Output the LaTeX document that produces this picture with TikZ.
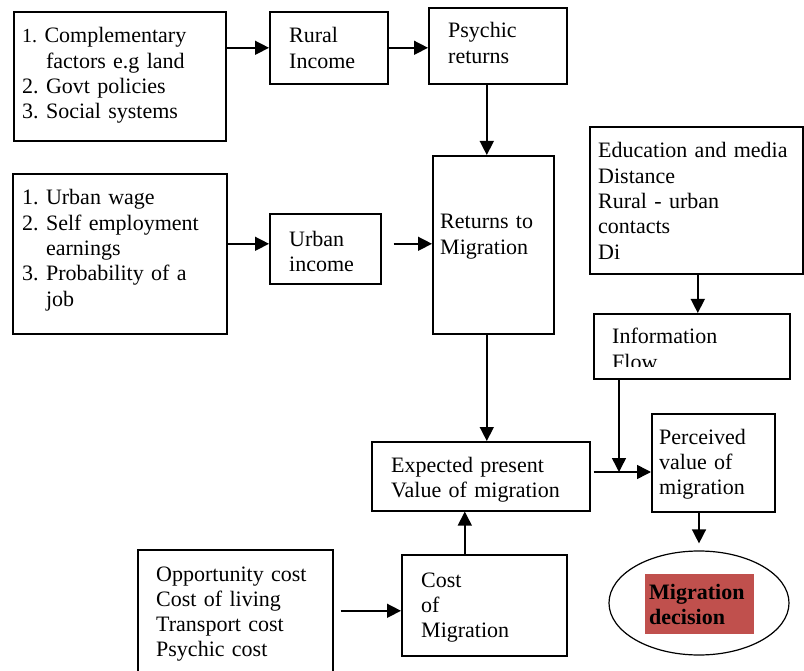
\documentclass[tikz,border=0pt]{standalone}
\usepackage{fontspec}
\setmainfont{Liberation Serif}
\usetikzlibrary{arrows.meta, positioning, shapes.geometric}
\definecolor{hlred}{HTML}{C0504D}
\frenchspacing

\begin{document}
\begin{tikzpicture}[x=1pt, y=-1pt,
        font=\fontsize{22}{25.3}\selectfont,
        box/.style={draw, line width=1.6pt, anchor=north west, inner sep=0pt},
        txt/.style={anchor=base west, align=left, inner sep=0pt, text width=200pt},
        arrow/.style={-{Triangle[length=14pt, width=14pt]}, line width=1.5pt}
    ]
    \useasboundingbox (0,0) rectangle (804,671);

        % Boxes
        \node[box, minimum width=212pt, minimum height=129pt] (factors) at (13,11) {};
        \node[box, minimum width=118pt, minimum height=72pt] (rural) at (269,11) {};
        \node[box, minimum width=138pt, minimum height=76pt] (psychic) at (428,7) {};
        \node[box, minimum width=214pt, minimum height=160pt] (urbanf) at (12,173) {};
        \node[box, minimum width=111pt, minimum height=70pt] (urban) at (269,213) {};
        \node[box, minimum width=121pt, minimum height=178pt] (returns) at (432,155) {};
        \node[box, minimum width=213pt, minimum height=147pt] (media) at (589,126) {};
        \node[box, minimum width=196pt, minimum height=65pt] (infoflow) at (593,313) {};
        \node[box, minimum width=218pt, minimum height=69pt] (expected) at (371,441) {};
        \node[box, minimum width=123pt, minimum height=98pt] (perceived) at (651,413) {};
        \node[box, minimum width=195pt, minimum height=132pt] (costs) at (137,549) {};
        \node[box, minimum width=165pt, minimum height=101pt] (cost) at (401,554) {};
        \node[draw, ellipse, line width=1.2pt, minimum width=180pt, minimum height=104pt, inner sep=0pt] (decision) at (699,603) {};

        % Texts
        \node[txt] (factorstxt) at ([shift={(9,32)}]factors.north west)
            {{\fontsize{20}{25.3}\selectfont 1.} Complementary\\\hphantom{1. }factors e.g land\\2. Govt policies\\3. Social systems};
        \node[txt] (ruraltxt) at ([shift={(20,32)}]rural.north west) {Rural\\Income};
        \node[txt] (psychictxt) at ([shift={(20,31)}]psychic.north west) {Psychic\\returns};
        \node[txt] (urbanftxt) at ([shift={(10,32)}]urbanf.north west)
            {1. Urban wage\\2. Self employment\\\hphantom{2. }earnings\\3. Probability of a\\\hphantom{3. }job};
        \node[txt] (urbantxt) at ([shift={(20,33.5)}]urban.north west) {Urban\\income};
        \node[txt] (returnstxt) at ([shift={(8,74)}]returns.north west) {Returns to\\Migration};
        \node[txt] (mediatxt) at ([shift={(9,32)}]media.north west)
            {Education and media\\Distance\\Rural - urban\\contacts\\Di};
        \begin{scope}
            \clip (infoflow.north west) rectangle ([yshift=13pt]infoflow.south east);
            \node[txt] (infoflowtxt) at ([shift={(19,31)}]infoflow.north west) {Information\\Flow};
        \end{scope}
        \node[txt] (expectedtxt) at ([shift={(20,31)}]expected.north west) {Expected present\\Value of migration};
        \node[txt] (perceivedtxt) at ([shift={(8,31)}]perceived.north west) {Perceived\\value of\\migration};
        \node[txt] (coststxt) at ([shift={(19,32)}]costs.north west)
            {Opportunity cost\\Cost of living\\Transport cost\\Psychic cost};
        \node[txt] (costtxt) at ([shift={(20,33)}]cost.north west) {Cost\\of\\Migration};
        \node[anchor=north west, fill=hlred, inner xsep=4pt, inner ysep=0pt, text width=101pt,
            minimum height=60pt, align=left, font=\fontsize{22}{25.3}\selectfont\bfseries] (decisiontxt)
            at (645,574) {Migration\\decision};

        % Arrows
        \coordinate (join) at (619,472);
        \draw[arrow] (factors.east |- rural.west) -- (rural.west);
        \draw[arrow] (rural.east) -- (rural.east -| psychic.west);
        \draw[arrow] ([xshift=-11pt]psychic.south) -- ([xshift=-11pt]psychic.south |- returns.north);
        \draw[arrow] ([yshift=5pt]urban.west -| urbanf.east) -- ([yshift=5pt]urban.west);
        \draw[arrow, shorten <=12pt] ([yshift=5pt]urban.east) -- ([yshift=5pt]urban.east -| returns.west);
        \draw[arrow] ([xshift=-6.5pt]returns.south) -- ([xshift=-6.5pt]returns.south |- expected.north);
        \draw[arrow] ([xshift=1.5pt]media.south) -- ([xshift=1.5pt]media.south |- infoflow.north);
        \draw[arrow] (infoflow.south -| join) -- (join);
        \draw[arrow, shorten <=3pt] (join -| expected.east) -- (join -| perceived.west);
        \draw[arrow] ([xshift=-19.5pt]cost.north) -- ([xshift=-19.5pt]cost.north |- expected.south);
        \draw[arrow, shorten <=7pt] ([yshift=-5.5pt]cost.west -| costs.east) -- ([yshift=-5.5pt]cost.west);
        \draw[arrow, shorten >=7pt] (perceived.south -| decision.north) -- (decision.north);
\end{tikzpicture}
\end{document}
